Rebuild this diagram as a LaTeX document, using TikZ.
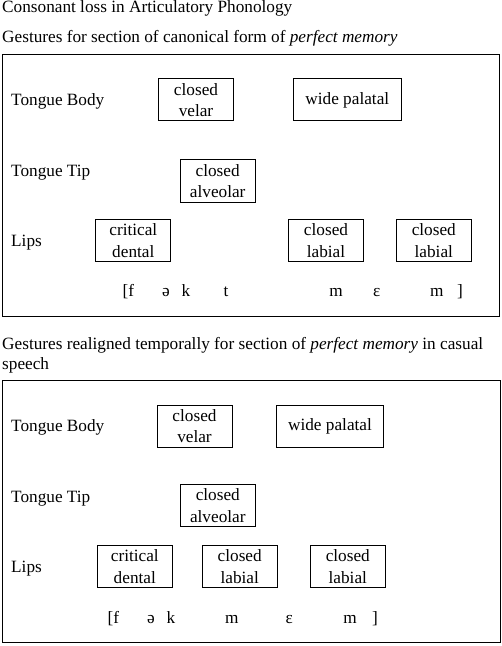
\documentclass[tikz,border=0pt]{standalone}
\usepackage{fontspec}
\setmainfont{Liberation Serif}
\newcommand\diagfont{\fontsize{17.3}{21.5}\selectfont}
\tikzset{
  caption/.style  = {anchor=base west, inner sep=0pt, font=\diagfont},
  rowlabel/.style = {anchor=base west, inner sep=0pt, font=\diagfont},
  phone/.style    = {anchor=base, inner sep=0pt, font=\diagfont},
  gesture/.style  = {rectangle, draw, line width=1bp,
                     minimum width=75bp, minimum height=42bp,
                     inner sep=1pt, align=center, font=\diagfont},
  wgesture/.style = {gesture, minimum width=107.5bp},
  frame/.style    = {draw, line width=1bp},
}
\begin{document}
\begin{tikzpicture}[x=1bp, y=-1bp]
  \useasboundingbox (0,0) rectangle (502,646);
  % canonical form
  \node[caption] (title) at (2,12.5) {Consonant loss in Articulatory Phonology};
  \node[caption] (capA) at (2,42.5) {Gestures for section of canonical form of \textit{perfect memory}};
  \draw[frame] (2.5,54.5) rectangle (499,316.5);
  \node[rowlabel] (bodyA) at (11,106)   {Tongue Body};
  \node[rowlabel] (tipA)  at (11,176.7) {Tongue Tip};
  \node[rowlabel] (lipsA) at (11,246.7) {Lips};
  \node[gesture]  (velarA)    at (196,100)     {closed\\velar};
  \node[wgesture] (palatalA)  at (347.3,100)   {wide palatal};
  \node[gesture]  (alveolarA) at (217.7,181)   {closed\\alveolar};
  \node[gesture]  (dentalA)   at (133.3,240.7) {critical\\dental};
  \node[gesture]  (labialA)   at (326,240.7)   {closed\\labial};
  \node[gesture]  (labialAA)  at (433.8,240.7) {closed\\labial};
  \foreach \x/\ph [count=\i] in {128.3/{[f},166/ə,186/k,226/t,336/m,376.7/ɛ,436.7/m,460/]}
    \node[phone] (phA\i) at (\x,296.7) {\ph};

  % casual speech
  \node[caption] (capB)  at (2,349.3) {Gestures realigned temporally for section of \textit{perfect memory} in casual};
  \node[caption] (capBB) at (2,369)   {speech};
  \draw[frame] (2,380) rectangle (500,642.5);
  \node[rowlabel] (bodyB) at (11,431.7) {Tongue Body};
  \node[rowlabel] (tipB)  at (11,502.7) {Tongue Tip};
  \node[rowlabel] (lipsB) at (11,572.3) {Lips};
  \node[gesture]  (velarB)    at (194.5,426)   {closed\\velar};
  \node[wgesture] (palatalB)  at (330,426)     {wide palatal};
  \node[gesture]  (alveolarB) at (217.8,505.7) {closed\\alveolar};
  \node[gesture]  (dentalB)   at (134.8,566.7) {critical\\dental};
  \node[gesture]  (labialB)   at (239.7,566.7) {closed\\labial};
  \node[gesture]  (labialBB)  at (347.8,566.7) {closed\\labial};
  \foreach \x/\ph [count=\i] in {113.3/{[f},151/ə,171/k,231.7/m,289.3/ɛ,350/m,375/]}
    \node[phone] (phB\i) at (\x,623.3) {\ph};
\end{tikzpicture}
\end{document}
